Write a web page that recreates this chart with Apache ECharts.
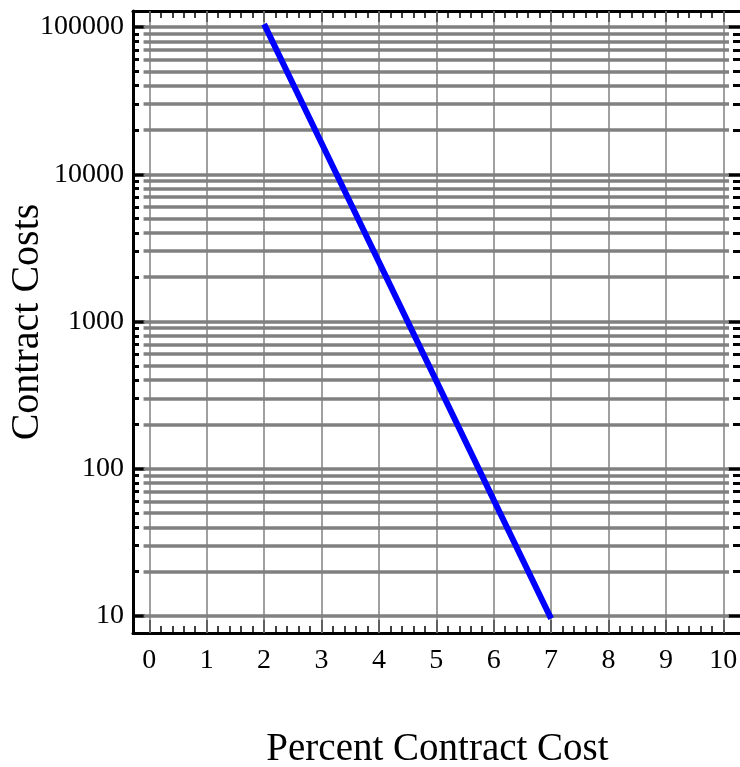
<!DOCTYPE html>
<html><head><meta charset="utf-8">
<script src="https://cdn.jsdelivr.net/npm/echarts@6/dist/echarts.min.js"></script>
<style>html,body{margin:0;padding:0;background:#fff}#c{width:740px;height:767px}</style>
</head><body><div id="c"></div>
<script>
// ---- data ----
const percentCost = [2, 3, 4, 5, 6, 7];
const contractCosts = [104700, 16300, 2540, 395, 61.5, 9.6];
const xTickValues = [0, 1, 2, 3, 4, 5, 6, 7, 8, 9, 10];
const yMajorValues = [10, 100, 1000, 10000, 100000];
const yMinorValues = [20, 30, 40, 50, 60, 70, 80, 90,
  200, 300, 400, 500, 600, 700, 800, 900,
  2000, 3000, 4000, 5000, 6000, 7000, 8000, 9000,
  20000, 30000, 40000, 50000, 60000, 70000, 80000, 90000];
const xMinorValues = [];
for (let i = 0; i < 10; i++) for (let j = 1; j < 5; j++) xMinorValues.push(+(i + j * 0.2).toFixed(1));

const X_MIN = -0.284, X_MAX = 10.326, Y_MIN = 7.664, Y_MAX = 128460;
const FONT = '"Liberation Serif", "Times New Roman", serif';
const GRID_COLOR = '#808080';

function xAx(position, ticks, len, width, showLine, extra) {
  return Object.assign({
    type: 'value', gridIndex: 0, position: position, min: X_MIN, max: X_MAX,
    axisLine: { show: showLine, onZero: false, lineStyle: { color: '#000', width: 3 } },
    axisTick: { show: true, inside: true, customValues: ticks, length: len, lineStyle: { color: '#000', width: width } },
    axisLabel: { show: false },
    splitLine: { show: false }
  }, extra || {});
}
function yAx(position, ticks, len, width, showLine, extra) {
  return Object.assign({
    type: 'log', logBase: 10, gridIndex: 0, position: position, min: Y_MIN, max: Y_MAX,
    axisLine: { show: showLine, onZero: false, lineStyle: { color: '#000', width: 3 } },
    axisTick: { show: true, inside: true, customValues: ticks, length: len, lineStyle: { color: '#000', width: width } },
    axisLabel: { show: false },
    splitLine: { show: false }
  }, extra || {});
}

const gridLines = [];
xTickValues.forEach(v => gridLines.push({ xAxis: v, lineStyle: { color: GRID_COLOR, width: 1.5, type: 'solid' } }));
yMajorValues.concat(yMinorValues).forEach(v => gridLines.push([
  { coord: [-0.1, v], lineStyle: { color: GRID_COLOR, width: 3.5, type: 'solid' } },
  { coord: [10.1, v] }
]));

const chart = echarts.init(document.getElementById('c'), null, { renderer: 'canvas' });
chart.setOption({
  animation: false,
  backgroundColor: '#fff',
  grid: { left: 133, top: 11, width: 609, height: 622, containLabel: false, outerBoundsMode: 'none' },
  xAxis: [
    xAx('bottom', xTickValues, 13, 2, true, {
      axisLabel: { show: true, customValues: xTickValues, color: '#000', fontFamily: FONT, fontSize: 28, margin: 14 },
      name: 'Percent Contract Cost', nameLocation: 'middle', nameGap: 97, nameMoveOverlap: false,
      nameTextStyle: { color: '#000', fontFamily: FONT, fontSize: 39 }
    }),
    xAx('bottom', xMinorValues, 7, 1.5, false),
    xAx('top', xTickValues, 11, 2, true),
    xAx('top', xMinorValues, 7, 1.5, false)
  ],
  yAxis: [
    yAx('left', yMajorValues, 12, 3.5, true, {
      axisLabel: { show: true, customValues: yMajorValues, color: '#000', fontFamily: FONT, fontSize: 28, margin: 9,
        formatter: v => String(Math.round(v)) },
      name: 'Contract Costs', nameLocation: 'middle', nameGap: 86, nameMoveOverlap: false,
      nameTextStyle: { color: '#000', fontFamily: FONT, fontSize: 40 }
    }),
    yAx('left', yMinorValues, 6, 3, false),
    yAx('right', yMajorValues, 14, 3.5, false),
    yAx('right', yMinorValues, 9, 3, false)
  ],
  series: [
    {
      type: 'line', xAxisIndex: 0, yAxisIndex: 0, data: [], z: 1, silent: true,
      markLine: { silent: true, symbol: ['none', 'none'], z: 1, label: { show: false }, animation: false,
        emphasis: { disabled: true }, data: gridLines }
    },
    {
      type: 'line', xAxisIndex: 0, yAxisIndex: 0, z: 10,
      data: percentCost.map((x, i) => [x, contractCosts[i]]),
      showSymbol: false, symbol: 'none',
      lineStyle: { color: '#0000ff', width: 6 }
    }
  ]
});
</script></body></html>
